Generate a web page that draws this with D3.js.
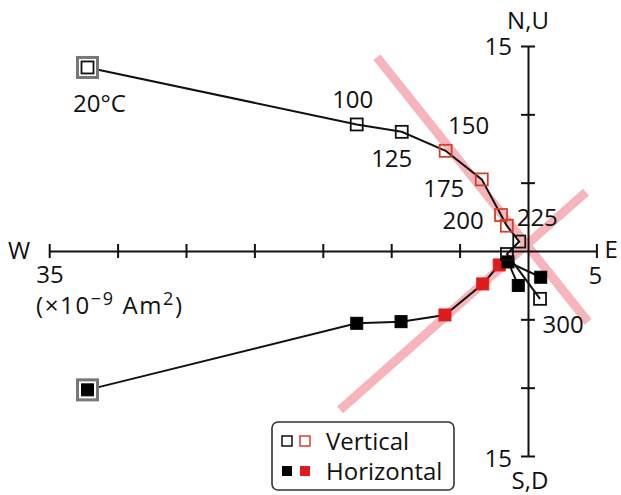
<!DOCTYPE html>
<html>
<head>
<meta charset="utf-8">
<script src="https://cdn.jsdelivr.net/npm/d3@7"></script>
<style>
  html, body { margin: 0; padding: 0; background: #fff; }
  svg { display: block; }
  text { font-family: "Open Sans", "Noto Sans", sans-serif; fill: #111; }
</style>
</head>
<body>
<svg id="chart" width="621" height="495"></svg>
<script>
// ---------- data ----------
const temps      = ["20°C", "100", "125", "150", "175", "200", "210", "225", "250", "300"];
// vertical projection (open squares): E (+) / W (-), Up (+) / Down (-)
const vertX      = [-32.2, -12.52, -9.23, -6.02, -3.38, -1.97, -1.55, -0.64, -1.54, 0.88];
const vertY      = [13.43, 9.26, 8.72, 7.33, 5.24, 2.63, 1.85, 0.69, -0.22, -3.50];
const vertRed    = [false, false, false, true, true, true, true, false, false, false];
const vertLabels = ["20°C", "100", "125", "150", "175", "200", "", "225", "", "300"];
// horizontal projection (filled squares)
const horX       = [-32.2, -12.52, -9.28, -6.07, -3.31, -2.10, -1.46, -0.71, 0.93];
const horY       = [-10.16, -5.29, -5.17, -4.68, -2.41, -1.02, -0.80, -2.52, -1.92];
const horRed     = [false, false, false, true, true, true, false, false, false];
const horOrder   = [0, 1, 2, 3, 4, 5, 6, 7, 6, 8];
// fitted directions (pale red bands), endpoints in data units
const fitVert    = [[-11.04, 14.18], [4.39, -5.19]];
const fitHor     = [[-13.74, -11.62], [4.24, 4.31]];
// axes
const xTicks     = [-35, -30, -25, -20, -15, -10, -5, 5];
const yTicks     = [-15, -10, -5, 5, 10, 15];
const legendItems = ["Vertical", "Horizontal"];

// ---------- drawing ----------
const svg = d3.select("#chart");
const x = d3.scaleLinear().domain([-35, 5]).range([49.2, 596.4]);
const y = d3.scaleLinear().domain([-15, 15]).range([456, 46]);
const RED = "#e01b1b";
const REDO = "#d5402c";
const BAND = "#f5b5ba";

// fitted bands
[fitVert, fitHor].forEach(f => {
  svg.append("line")
    .attr("x1", x(f[0][0])).attr("y1", y(f[0][1]))
    .attr("x2", x(f[1][0])).attr("y2", y(f[1][1]))
    .attr("stroke", BAND).attr("stroke-width", 9).attr("stroke-linecap", "butt");
});

// axes
const x0 = x(0), y0 = y(0);
const styleAxis = g => {
  g.selectAll("path").attr("stroke", "#111").attr("stroke-width", 2);
  g.selectAll("line").attr("stroke", "#111").attr("stroke-width", 2);
  g.selectAll("text").remove();
};
svg.append("g").attr("transform", `translate(0,${y0})`)
  .call(d3.axisBottom(x).tickValues(xTicks).tickSize(7).tickSizeOuter(0).tickFormat(""))
  .call(styleAxis);
svg.append("g").attr("transform", `translate(0,${y0})`)
  .call(d3.axisTop(x).tickValues(xTicks).tickSize(7).tickSizeOuter(0).tickFormat(""))
  .call(styleAxis).call(g => g.select("path").remove());
svg.append("g").attr("transform", `translate(${x0},0)`)
  .call(d3.axisLeft(y).tickValues(yTicks).tickSize(7).tickSizeOuter(0).tickFormat(""))
  .call(styleAxis);
svg.append("g").attr("transform", `translate(${x0},0)`)
  .call(d3.axisRight(y).tickValues(yTicks).tickSize(7).tickSizeOuter(0).tickFormat(""))
  .call(styleAxis).call(g => g.select("path").remove());

// axis labels
const fs = 24;
const txt = (s, px, py, anchor, size) => svg.append("text").attr("x", px).attr("y", py)
  .attr("font-size", size || fs).attr("text-anchor", anchor || "start").text(s);
txt("N,U", x0, 29, "middle");
txt("S,D", x0 + 2, 489, "middle");
txt("15", x0 - 16, y(15) + 9, "end");
txt("15", x0 - 16, y(-15) + 11, "end");
txt("W", 8, y0 + 8);
txt("E", x(5) + 8, y0 + 7);
txt("35", x(-35) - 13, y0 + 32);
txt("5", x(5) - 8, y0 + 33);
const unit = svg.append("text").attr("x", 36).attr("y", y0 + 63).attr("font-size", fs)
  .attr("textLength", 146).attr("lengthAdjust", "spacing");
unit.append("tspan").text("(×10");
unit.append("tspan").attr("dy", -9).attr("font-size", 18).text("−9");
unit.append("tspan").attr("dy", 9).text(" Am");
unit.append("tspan").attr("dy", -9).attr("font-size", 18).text("2");
unit.append("tspan").attr("dy", 9).text(")");

// lines
const line = d3.line().x(d => x(d[0])).y(d => y(d[1]));
svg.append("path")
  .attr("d", line(vertX.map((v, i) => [v, vertY[i]])))
  .attr("fill", "none").attr("stroke", "#111").attr("stroke-width", 2);
svg.append("path")
  .attr("d", line(horOrder.map(i => [horX[i], horY[i]])))
  .attr("fill", "none").attr("stroke", "#111").attr("stroke-width", 2);

// markers
const S = 12;
// 20°C double frames
[[vertX[0], vertY[0]], [horX[0], horY[0]]].forEach(p => {
  svg.append("rect").attr("x", x(p[0]) - 10).attr("y", y(p[1]) - 10)
    .attr("width", 20).attr("height", 20).attr("fill", "#fff")
    .attr("stroke", "#777").attr("stroke-width", 3);
});
svg.selectAll(".hm").data(horX.map((v, i) => ({ v, w: horY[i], red: horRed[i] })))
  .join("rect").attr("class", "hm")
  .attr("x", d => x(d.v) - S / 2).attr("y", d => y(d.w) - S / 2)
  .attr("width", S).attr("height", S)
  .attr("fill", d => d.red ? RED : "#000")
  .attr("stroke", d => d.red ? RED : "#000").attr("stroke-width", 1);
svg.selectAll(".vm").data(vertX.map((v, i) => ({ v, w: vertY[i], red: vertRed[i] })))
  .join("rect").attr("class", "vm")
  .attr("x", d => x(d.v) - S / 2).attr("y", d => y(d.w) - S / 2)
  .attr("width", S).attr("height", S)
  .attr("fill", "#fff").attr("fill-opacity", 0.0)
  .attr("stroke", d => d.red ? REDO : "#111").attr("stroke-width", 1.8);

// temperature labels
const off = { "20°C": [12, 45], "100": [-4, -16], "125": [-10, 35], "150": [23, -17],
  "175": [-38, 18], "200": [-38, 14], "225": [18, -16], "300": [23, 34] };
vertLabels.forEach((l, i) => {
  if (!l) return;
  txt(l, x(vertX[i]) + off[l][0], y(vertY[i]) + off[l][1], "middle");
});

// legend
const lg = svg.append("g");
lg.append("rect").attr("x", 272).attr("y", 422).attr("width", 182).attr("height", 68)
  .attr("rx", 6).attr("fill", "#fff").attr("stroke", "#333").attr("stroke-width", 1.6);
legendItems.forEach((name, i) => {
  const cy = 441 + i * 30;
  const open = i === 0;
  lg.append("rect").attr("x", 282).attr("y", cy - 5).attr("width", 10).attr("height", 10)
    .attr("fill", open ? "#fff" : "#000").attr("stroke", "#111").attr("stroke-width", open ? 1.5 : 0);
  lg.append("rect").attr("x", 300).attr("y", cy - 5).attr("width", 10).attr("height", 10)
    .attr("fill", open ? "#fff" : RED).attr("stroke", open ? REDO : RED).attr("stroke-width", open ? 1.5 : 0);
  lg.append("text").attr("x", 326).attr("y", cy + 9).attr("font-size", fs).text(name);
});
</script>
</body>
</html>
